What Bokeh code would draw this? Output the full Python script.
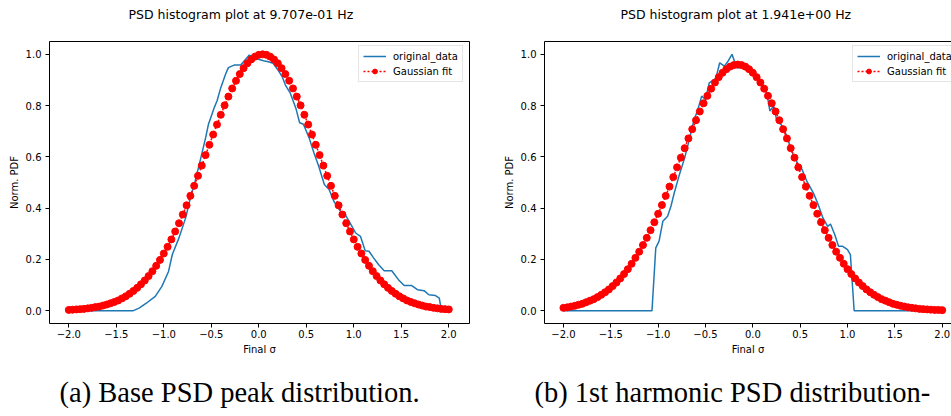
from bokeh.plotting import figure
from bokeh.layouts import row
from bokeh.models import LinearAxis, FixedTicker, Legend, LegendItem, Range1d, Title
from bokeh.embed import file_html
from bokeh.resources import INLINE

FONT = "DejaVu Sans"

# ---------------- data ----------------
x_ticks = [-2.0, -1.5, -1.0, -0.5, 0.0, 0.5, 1.0, 1.5, 2.0]
x_tick_labels = ["\u22122.0", "\u22121.5", "\u22121.0", "\u22120.5", "0.0", "0.5", "1.0", "1.5", "2.0"]
y_ticks = [0.0, 0.2, 0.4, 0.6, 0.8, 1.0]
y_tick_labels = ["0.0", "0.2", "0.4", "0.6", "0.8", "1.0"]

fit_x = [-2.00, -1.96, -1.92, -1.88, -1.84, -1.80, -1.76, -1.72, -1.68, -1.64,
         -1.60, -1.56, -1.52, -1.48, -1.44, -1.40, -1.36, -1.32, -1.28, -1.24,
         -1.20, -1.16, -1.12, -1.08, -1.04, -1.00, -0.96, -0.92, -0.88, -0.84,
         -0.80, -0.76, -0.72, -0.68, -0.64, -0.60, -0.56, -0.52, -0.48, -0.44,
         -0.40, -0.36, -0.32, -0.28, -0.24, -0.20, -0.16, -0.12, -0.08, -0.04,
         0.00, 0.04, 0.08, 0.12, 0.16, 0.20, 0.24, 0.28, 0.32, 0.36,
         0.40, 0.44, 0.48, 0.52, 0.56, 0.60, 0.64, 0.68, 0.72, 0.76,
         0.80, 0.84, 0.88, 0.92, 0.96, 1.00, 1.04, 1.08, 1.12, 1.16,
         1.20, 1.24, 1.28, 1.32, 1.36, 1.40, 1.44, 1.48, 1.52, 1.56,
         1.60, 1.64, 1.68, 1.72, 1.76, 1.80, 1.84, 1.88, 1.92, 1.96, 2.00]

# (a) base PSD peak
a_title = "PSD histogram plot at 9.707e-01 Hz"
a_caption = "(a) Base PSD peak distribution."
a_data_x = [-2.00, -1.32, -1.26, -1.18, -1.09, -1.02, -0.95, -0.91, -0.84, -0.77,
            -0.72, -0.67, -0.61, -0.56, -0.53, -0.47, -0.44, -0.40, -0.35, -0.32,
            -0.26, -0.19, -0.14, -0.10, -0.04, 0.05, 0.10, 0.15, 0.20, 0.25,
            0.28, 0.33, 0.39, 0.43, 0.47, 0.53, 0.58, 0.63, 0.69, 0.74,
            0.79, 0.86, 0.91, 0.97, 1.02, 1.07, 1.12, 1.16, 1.21, 1.26,
            1.32, 1.40, 1.47, 1.53, 1.61, 1.67, 1.74, 1.79, 1.86, 1.90,
            1.92, 2.00]
a_data_y = [0.000, 0.000, 0.010, 0.030, 0.056, 0.095, 0.153, 0.219, 0.284, 0.362,
            0.440, 0.505, 0.596, 0.674, 0.727, 0.791, 0.818, 0.870, 0.922, 0.948,
            0.958, 0.958, 0.980, 0.997, 0.985, 0.975, 0.971, 0.965, 0.940, 0.910,
            0.880, 0.850, 0.790, 0.733, 0.727, 0.674, 0.616, 0.564, 0.492, 0.473,
            0.427, 0.388, 0.375, 0.336, 0.303, 0.290, 0.234, 0.232, 0.205, 0.180,
            0.156, 0.156, 0.121, 0.098, 0.098, 0.082, 0.078, 0.062, 0.059, 0.049,
            0.005, 0.000]
a_fit_y = [0.003, 0.004, 0.005, 0.006, 0.007, 0.009, 0.011, 0.014, 0.016, 0.020,
           0.024, 0.029, 0.034, 0.040, 0.048, 0.056, 0.066, 0.077, 0.089, 0.103,
           0.118, 0.135, 0.154, 0.175, 0.198, 0.223, 0.249, 0.278, 0.309, 0.341,
           0.375, 0.411, 0.448, 0.487, 0.526, 0.566, 0.607, 0.647, 0.687, 0.726,
           0.764, 0.801, 0.835, 0.867, 0.897, 0.923, 0.946, 0.965, 0.980, 0.991,
           0.998, 1.000, 0.998, 0.991, 0.980, 0.965, 0.946, 0.923, 0.897, 0.867,
           0.835, 0.801, 0.764, 0.726, 0.687, 0.647, 0.607, 0.566, 0.526, 0.487,
           0.448, 0.411, 0.375, 0.341, 0.309, 0.278, 0.249, 0.223, 0.198, 0.175,
           0.154, 0.135, 0.118, 0.103, 0.089, 0.077, 0.066, 0.056, 0.048, 0.040,
           0.034, 0.029, 0.024, 0.020, 0.016, 0.014, 0.011, 0.009, 0.007, 0.006, 0.005]

# (b) 1st harmonic
b_title = "PSD histogram plot at 1.941e+00 Hz"
b_caption = "(b) 1st harmonic PSD distribution-"
b_data_x = [-2.00, -1.065, -1.025, -0.99, -0.95, -0.90, -0.865, -0.83, -0.78, -0.72,
            -0.67, -0.62, -0.585, -0.54, -0.50, -0.46, -0.42, -0.39, -0.35, -0.30,
            -0.26, -0.22, -0.17, -0.11, -0.08, -0.04, 0.00, 0.04, 0.11, 0.15,
            0.18, 0.22, 0.25, 0.31, 0.36, 0.41, 0.46, 0.52, 0.57, 0.64,
            0.69, 0.74, 0.79, 0.82, 0.865, 0.905, 0.95, 1.00, 1.03, 1.07, 2.00]
b_data_y = [0.000, 0.000, 0.245, 0.271, 0.349, 0.368, 0.407, 0.459, 0.525, 0.596,
            0.668, 0.746, 0.779, 0.837, 0.824, 0.889, 0.898, 0.906, 0.967, 0.954,
            0.974, 1.000, 0.948, 0.950, 0.941, 0.940, 0.930, 0.915, 0.876, 0.844,
            0.779, 0.798, 0.746, 0.720, 0.681, 0.622, 0.583, 0.551, 0.505, 0.459,
            0.414, 0.362, 0.329, 0.338, 0.297, 0.251, 0.251, 0.238, 0.219, 0.000, 0.000]
b_fit_y = [0.011, 0.013, 0.016, 0.019, 0.023, 0.027, 0.033, 0.039, 0.045, 0.053,
           0.062, 0.072, 0.083, 0.096, 0.110, 0.126, 0.143, 0.162, 0.183, 0.206,
           0.230, 0.256, 0.284, 0.314, 0.345, 0.378, 0.412, 0.448, 0.484, 0.521,
           0.559, 0.597, 0.634, 0.672, 0.708, 0.743, 0.777, 0.809, 0.838, 0.866,
           0.890, 0.911, 0.928, 0.942, 0.952, 0.958, 0.960, 0.958, 0.952, 0.942,
           0.928, 0.911, 0.890, 0.866, 0.838, 0.809, 0.777, 0.743, 0.708, 0.672,
           0.634, 0.597, 0.559, 0.521, 0.484, 0.448, 0.412, 0.378, 0.345, 0.314,
           0.284, 0.256, 0.230, 0.206, 0.183, 0.162, 0.143, 0.126, 0.110, 0.096,
           0.083, 0.072, 0.062, 0.053, 0.045, 0.039, 0.033, 0.027, 0.023, 0.019,
           0.016, 0.013, 0.011, 0.009, 0.007, 0.006, 0.005, 0.004, 0.003, 0.003, 0.002]


def spacer_axis(gap, line=True):
    ax = LinearAxis(ticker=FixedTicker(ticks=[]), major_tick_line_color=None,
                    minor_tick_line_color=None, major_tick_in=0, major_tick_out=0,
                    major_label_text_color=None, major_label_standoff=0,
                    axis_line_color="black" if line else None, axis_line_width=1)
    if gap > 0:
        ax.axis_label = " "
        ax.axis_label_text_font_size = "1px"
        ax.axis_label_text_color = "white"
        ax.axis_label_standoff = gap
    return ax


def make_panel(title, caption, data_x, data_y, fit_y, xr, width, mbl, mbr,
               title_off, caption_off, legend_xy, right_border):
    p = figure(width=width, height=416, output_backend="svg", toolbar_location=None,
               x_range=Range1d(*xr), y_range=Range1d(-0.05, 1.05), title=None,
               min_border_left=mbl, min_border_right=mbr,
               min_border_top=41, min_border_bottom=93)
    p.outline_line_color = None
    p.xgrid.grid_line_color = None
    p.ygrid.grid_line_color = None
    p.background_fill_color = "white"
    p.border_fill_color = "white"

    xa = p.xaxis[0]
    ya = p.yaxis[0]
    xa.ticker = FixedTicker(ticks=x_ticks)
    xa.major_label_overrides = {t: l for t, l in zip(x_ticks, x_tick_labels)}
    ya.ticker = FixedTicker(ticks=y_ticks)
    ya.major_label_overrides = {t: l for t, l in zip(y_ticks, y_tick_labels)}
    for ax in (xa, ya):
        ax.axis_line_color = "black"
        ax.axis_line_width = 1
        ax.major_tick_line_color = "black"
        ax.major_tick_line_width = 1
        ax.major_tick_in = 0
        ax.major_tick_out = 4
        ax.minor_tick_line_color = None
        ax.major_label_text_font = FONT
        ax.major_label_text_font_size = "10px"
        ax.major_label_text_color = "black"
        ax.axis_label_text_font = FONT
        ax.axis_label_text_font_size = "10px"
        ax.axis_label_text_font_style = "normal"
        ax.axis_label_text_color = "black"
    xa.major_label_standoff = 2
    ya.major_label_standoff = 4
    ya.axis_label = "Norm. PDF"
    ya.axis_label_standoff = 3
    xa.axis_label = "Final \u03c3"
    xa.axis_label_standoff = 3

    # frame borders + spacing
    p.add_layout(spacer_axis(12), "above")
    p.add_layout(Title(text=title, align="left", offset=title_off, vertical_align="bottom",
                       standoff=8, text_font=FONT, text_font_size="12.5px",
                       text_font_style="normal", text_color="black"), "above")
    if right_border:
        p.add_layout(spacer_axis(0), "right")
    p.add_layout(spacer_axis(13, line=False), "below")
    p.add_layout(Title(text=caption, align="left", offset=caption_off, vertical_align="top",
                       standoff=4, text_font="Liberation Serif", text_font_size="28.5px",
                       text_font_style="normal", text_color="black"), "below")

    r_data = p.line(data_x, data_y, line_color="#1f77b4", line_width=1.5)
    r_fit_line = p.line(fit_x, fit_y, line_color="red", line_width=1.5, line_dash="2 2")
    r_fit = p.scatter(fit_x, fit_y, size=7, fill_color="red", line_color="red")

    legend = Legend(items=[LegendItem(label="original_data", renderers=[r_data]),
                           LegendItem(label="Gaussian fit", renderers=[r_fit_line, r_fit])],
                    location=legend_xy, margin=0, padding=4, spacing=3,
                    glyph_width=23, glyph_height=12, label_height=12, label_standoff=7,
                    label_text_font=FONT, label_text_font_size="10px", label_text_color="black",
                    border_line_color="#cccccc", border_line_width=1,
                    background_fill_color="white", background_fill_alpha=0.8)
    p.add_layout(legend)
    return p


p1 = make_panel(a_title, a_caption, a_data_x, a_data_y, a_fit_y, (-2.203, 2.218),
                500, 49, 31, 79, 10, (309, 241), True)
p2 = make_panel(b_title, b_caption, b_data_x, b_data_y, b_fit_y, (-2.2, 2.098),
                451, 41, 0, 76, -10, (308, 241), False)

layout = row(p1, p2)
open("out.html", "w").write(file_html(layout, INLINE))
